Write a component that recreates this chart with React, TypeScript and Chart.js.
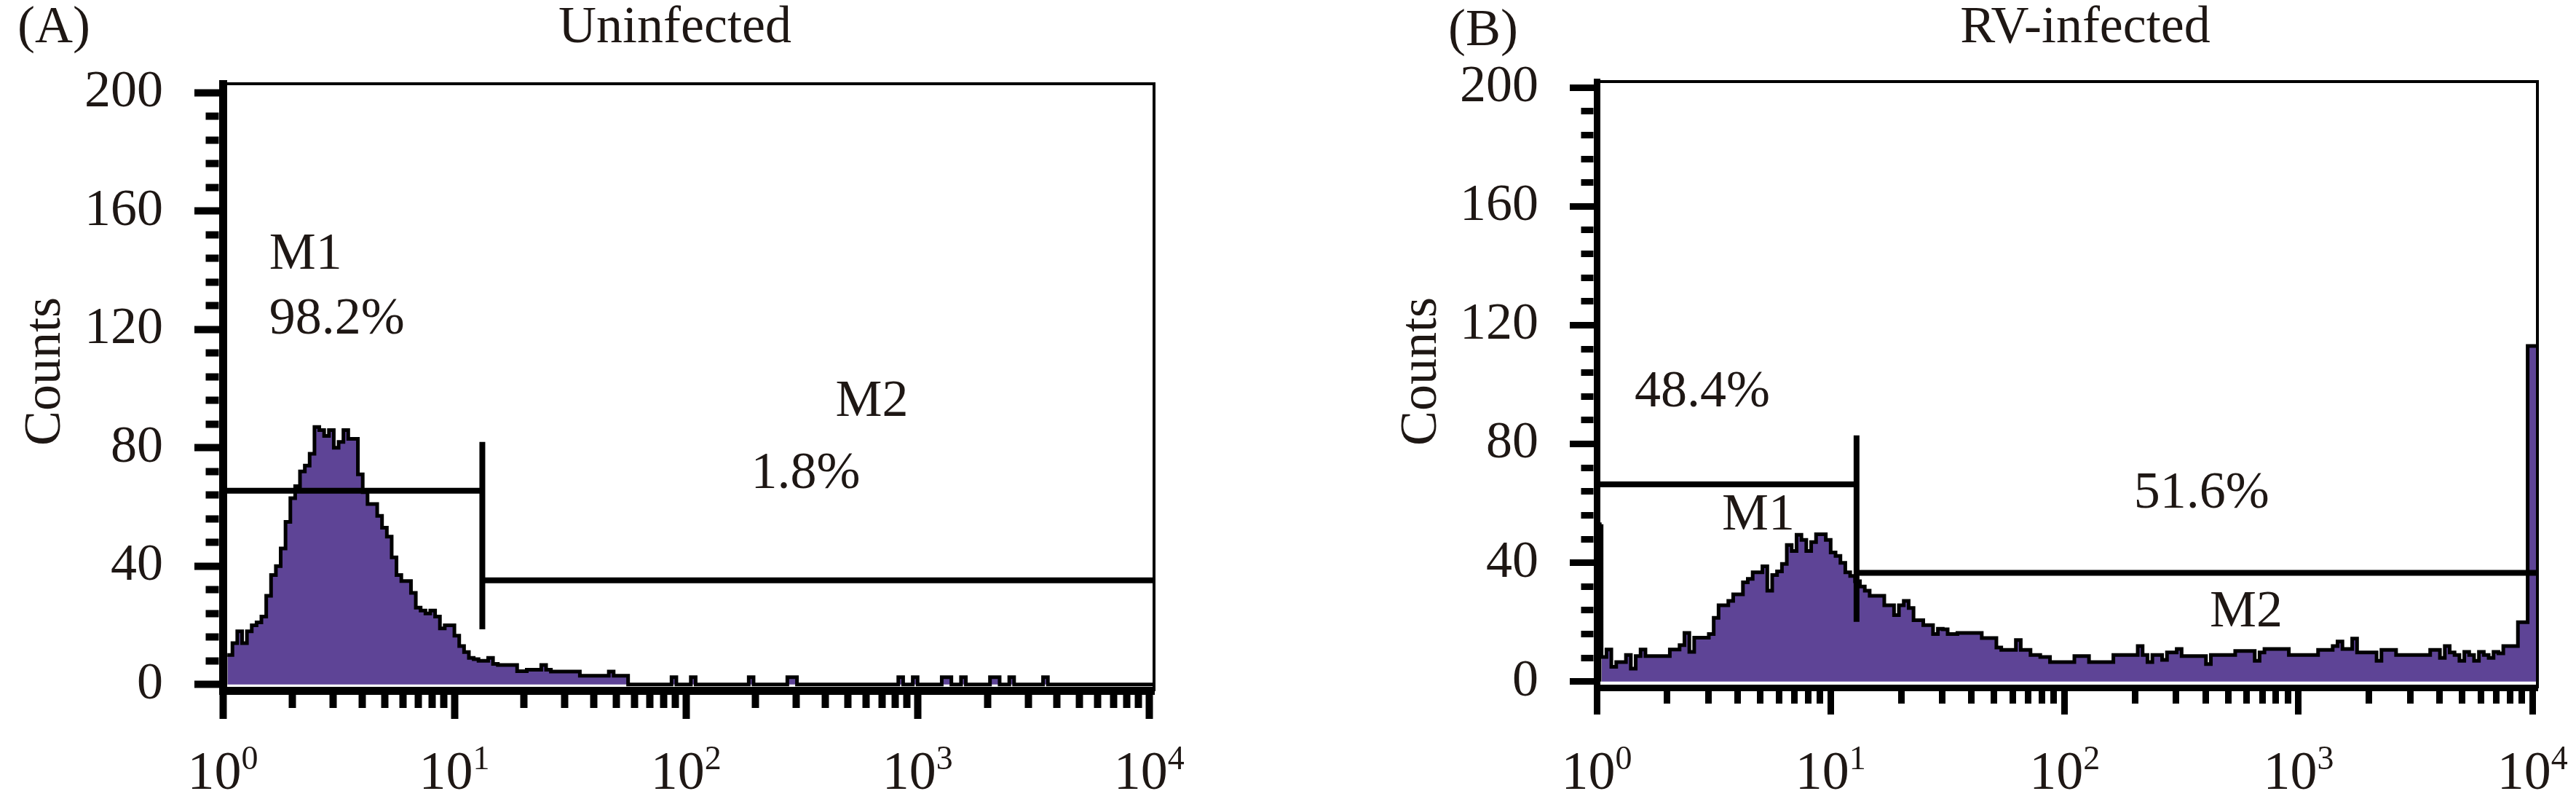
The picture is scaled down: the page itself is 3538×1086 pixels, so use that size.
import React, { useEffect, useRef } from 'react';
import { Chart, registerables } from 'chart.js';

Chart.register(...registerables);

// ---------- data ----------
const BINS_PER_DECADE = 48;
const X_DECADES = [0, 1, 2, 3, 4];
const Y_MAJOR_TICKS = [0, 40, 80, 120, 160, 200];
const Y_MINOR_STEP = 8;

// counts per bin (bin i spans 10^(i/48) .. 10^((i+1)/48))
const uninfectedCounts = [
  104, 10, 10, 14, 18, 14, 18, 20, 21, 23, 30, 37, 40, 46, 55, 63,
  67, 72, 74, 78, 87, 86, 84, 86, 80, 82, 86, 83, 83, 71, 65, 61,
  61, 57, 53, 50, 43, 37, 35, 35, 31, 26, 25, 24, 25, 23, 19, 20,
  20, 16.5, 13, 11, 9, 8.6, 8, 8, 9, 7, 6.6, 6.6, 6.6, 6.6, 4.5, 4.5,
  5, 5, 5, 6.6, 5, 4.4, 4.4, 4.4, 4.4, 4.4, 4.4, 3, 3, 3, 3, 3,
  3, 4.4, 3, 3, 3, 0, 0, 0, 0, 0, 0, 0, 0, 0, 2.5, 0,
  0, 0, 2.5, 0, 0, 0, 0, 0, 0, 0, 0, 0, 0, 0, 2.5, 0,
  0, 0, 0, 0, 0, 0, 2.5, 2.5, 0, 0, 0, 0, 0, 0, 0, 0,
  0, 0, 0, 0, 0, 0, 0, 0, 0, 0, 0, 0, 0, 2.5, 0, 0,
  2.5, 0, 0, 0, 0, 0, 2.5, 2.5, 0, 0, 2.5, 0, 0, 0, 0, 0,
  2.5, 2.5, 0, 0, 2.5, 0, 0, 0, 0, 0, 0, 2.5, 0, 0, 0, 0,
  0, 0, 0, 0, 0, 0, 0, 0, 0, 0, 0, 0, 0, 0, 0, 0,
  0,
];

const rvInfectedCounts = [
  100, 53, 8.3, 10.8, 5, 6.6, 6.6, 9, 4.4, 8.6, 10.8, 8.6, 8.6, 8.6, 8.6, 8.6,
  10.8, 10.8, 12.3, 16.4, 10, 14.8, 14.8, 14.8, 16, 21.5, 25.7, 25.7, 27.2, 29.4, 29.4, 33.4,
  34.6, 36.8, 36.8, 38.8, 30.6, 35.9, 37.1, 39.6, 46, 44, 49.4, 47.7, 44, 47, 49.6, 49.6,
  47.7, 43.5, 42.3, 40, 36.8, 35.6, 33.8, 32, 30.6, 28.9, 28.9, 28.9, 25.7, 25.7, 22.4, 25.7,
  27.2, 24.8, 20.7, 20.7, 19, 19, 16, 17.8, 17.6, 16, 16, 16.4, 16.4, 16.4, 16.4, 16.4,
  14.7, 14.7, 14.7, 11.5, 10.7, 10.7, 10.7, 14, 10.7, 10.7, 9, 9, 8.3, 8.3, 6.6, 6.6,
  6.6, 6.6, 6.6, 8.6, 8.6, 8.6, 6.6, 6.6, 6.6, 6.6, 6.6, 9, 9, 9, 9, 9,
  12, 9, 6.6, 9, 9, 7.3, 9.8, 9.8, 11, 8.6, 8.6, 8.6, 8.6, 8.6, 5.9, 9,
  9, 9, 9, 9, 10.3, 10.3, 10.3, 10.3, 7, 9.8, 11, 11, 11, 11, 11, 9,
  9, 9, 9, 9, 9, 10.7, 10.7, 10.7, 12, 13.5, 11, 11, 14.5, 9.8, 9.8, 9.8,
  9.8, 7, 10.7, 10.7, 10.7, 9, 9, 9, 9, 9, 9, 9, 10.7, 10.7, 8, 12,
  9.8, 9, 7, 10, 9, 7, 10, 9, 8, 10, 9.5, 12, 12, 12, 20, 20,
  113,
];

// marker (gate) levels [M1, M2] in counts, and the fluorescence value splitting M1 / M2
const uninfectedMarkerLevels = [65.5, 35.2];
const uninfectedMarkerSplit = 13.2;
const rvMarkerLevels = [66.4, 36.6];
const rvMarkerSplit = 12.9;
const MARKER_END_HALF = 16.5;

// annotation texts: [text, fluorescence value (left edge), count (baseline)]
const uninfectedLabels: [string, number, number][] = [
  ['M1', 1.585, 140.4],
  ['98.2%', 1.585, 118.7],
  ['M2', 442, 90.9],
  ['1.8%', 191, 66.5],
];
const rvLabels: [string, number, number][] = [
  ['48.4%', 1.452, 92.6],
  ['M1', 3.43, 51.2],
  ['51.6%', 197.7, 58.6],
  ['M2', 417, 18.6],
];

// ---------- style ----------
const FONT = '"Liberation Serif", "Times New Roman", serif';
const TEXT = '#1e1714';
const FILL = '#5e4496';
const H = 1086;
const X_MAX = Math.pow(10, (uninfectedCounts.length) / BINS_PER_DECADE);

const PANELS = [
  {
    key: 'A', left: 0, width: 1769,
    area: { left: 306, right: 1585, top: 115, bottom: 948 },
    yMax: 203, axisW: 11, tickW: 10, tickLen: 39, minorLen: 18,
    title: 'Uninfected', titleX: 927, tag: '(A)', tagX: 24, tagY: 58, countsX: 82,
    counts: uninfectedCounts, levels: uninfectedMarkerLevels, split: uninfectedMarkerSplit,
    labels: uninfectedLabels,
  },
  {
    key: 'B', left: 1769, width: 1769,
    area: { left: 424, right: 1716, top: 112, bottom: 944 },
    yMax: 202, axisW: 9, tickW: 9, tickLen: 37, minorLen: 17,
    title: 'RV-infected', titleX: 1095, tag: '(B)', tagX: 220, tagY: 62, countsX: 203,
    counts: rvInfectedCounts, levels: rvMarkerLevels, split: rvMarkerSplit,
    labels: rvLabels,
  },
];

function xTicks() {
  const t: { value: number; major: boolean }[] = [];
  for (let d = 0; d < 4; d++) {
    t.push({ value: Math.pow(10, d), major: true });
    for (let k = 2; k <= 9; k++) t.push({ value: k * Math.pow(10, d), major: false });
  }
  t.push({ value: 10000, major: true });
  return t;
}

function yTicks() {
  const t: { value: number; major: boolean }[] = [];
  for (let v = 0; v <= 200; v += Y_MINOR_STEP) {
    t.push({ value: v, major: Y_MAJOR_TICKS.includes(v) });
  }
  return t;
}

function buildChart(canvas: HTMLCanvasElement, p: any) {
  const hist = p.counts.map((c: number, i: number) => ({ x: Math.pow(10, i / BINS_PER_DECADE), y: c }));
  hist.push({ x: X_MAX, y: p.counts[p.counts.length - 1] });

  const lineDs = (pts: { x: number; y: number }[]) => ({
    type: 'line',
    data: pts,
    borderColor: '#000',
    borderWidth: 8,
    pointRadius: 0,
    fill: false,
    order: 0,
    xAxisID: 'x',
    yAxisID: 'y',
  });
  const [m1, m2] = p.levels;
  const s = p.split;
  const markers = [
    lineDs([{ x: 1, y: m1 }, { x: s, y: m1 }]),
    lineDs([{ x: 1, y: m1 - MARKER_END_HALF }, { x: 1, y: m1 + MARKER_END_HALF }]),
    lineDs([{ x: s, y: m1 + MARKER_END_HALF }, { x: s, y: m2 - MARKER_END_HALF }]),
    lineDs([{ x: s, y: m2 }, { x: X_MAX, y: m2 }]),
  ];

  const segLenY = p.tickLen - p.axisW / 2;
  const textPlugin = {
    id: 'texts' + p.key,
    afterDraw(chart: any) {
      const ctx = chart.ctx;
      const xs = chart.scales.x;
      const ys = chart.scales.y;
      ctx.save();
      ctx.fillStyle = TEXT;
      ctx.textBaseline = 'alphabetic';
      ctx.font = `72px ${FONT}`;
      ctx.textAlign = 'center';
      ctx.fillText(p.title, p.titleX, 58);
      ctx.textAlign = 'left';
      ctx.fillText(p.tag, p.tagX, p.tagY);
      // y axis title
      ctx.save();
      ctx.translate(p.countsX, 510);
      ctx.rotate(-Math.PI / 2);
      ctx.textAlign = 'center';
      ctx.fillText('Counts', 0, 0);
      ctx.restore();
      // annotations
      ctx.textAlign = 'left';
      p.labels.forEach(([t, xv, yv]: [string, number, number]) => {
        ctx.fillText(t, xs.getPixelForValue(xv), ys.getPixelForValue(yv));
      });
      // x tick labels 10^n
      X_DECADES.forEach((d) => {
        const px = xs.getPixelForValue(Math.pow(10, d));
        ctx.font = `74px ${FONT}`;
        const w1 = ctx.measureText('10').width;
        ctx.font = `46px ${FONT}`;
        const w2 = ctx.measureText(String(d)).width;
        const left = px - (w1 + w2) / 2;
        ctx.font = `74px ${FONT}`;
        ctx.fillText('10', left, 1083);
        ctx.font = `46px ${FONT}`;
        ctx.fillText(String(d), left + w1, 1056);
      });
      ctx.restore();
    },
  };

  return new Chart(canvas, {
    type: 'line',
    data: {
      datasets: [
        ...markers,
        {
          type: 'line',
          data: hist,
          stepped: 'after',
          borderColor: '#000',
          borderWidth: 5,
          backgroundColor: FILL,
          fill: 'origin',
          pointRadius: 0,
          order: 1,
          xAxisID: 'x',
          yAxisID: 'y',
          // first channel (saturated events) drawn as a solid dark spike
          segment: {
            backgroundColor: (c: any) => (c.p0DataIndex === 0 ? '#000' : undefined),
          },
        },
      ] as any,
    },
    options: {
      responsive: false,
      animation: false,
      devicePixelRatio: 1,
      events: [],
      layout: { padding: { left: 0, right: p.width - p.area.right, top: p.area.top, bottom: 0 } },
      plugins: { legend: { display: false }, tooltip: { enabled: false }, title: { display: false } },
      scales: {
        x: {
          type: 'logarithmic',
          position: 'bottom',
          min: 1,
          max: X_MAX,
          afterBuildTicks: (sc: any) => { sc.ticks = xTicks(); },
          afterFit: (sc: any) => { sc.height = H - p.area.bottom; },
          ticks: { display: false },
          grid: {
            drawOnChartArea: false,
            drawTicks: true,
            tickLength: p.tickLen,
            tickWidth: p.tickW,
            tickColor: '#000',
            tickBorderDash: (c: any) => (c.tick && c.tick.major ? [] : [p.minorLen, 300]),
            tickBorderDashOffset: 0,
          },
          border: { display: true, color: '#000', width: p.axisW, z: 1 },
        },
        y: {
          type: 'linear',
          position: 'left',
          min: -2,
          max: p.yMax,
          afterBuildTicks: (sc: any) => { sc.ticks = yTicks(); },
          afterFit: (sc: any) => { sc.width = p.area.left; },
          ticks: {
            autoSkip: false,
            padding: 43,
            color: TEXT,
            font: { family: FONT, size: 72 },
            callback: (v: any) => (Y_MAJOR_TICKS.includes(Number(v)) ? String(v) : ''),
          },
          grid: {
            drawOnChartArea: false,
            drawTicks: true,
            tickLength: p.tickLen,
            tickWidth: p.tickW,
            tickColor: '#000',
            tickBorderDash: (c: any) => (c.tick && c.tick.major ? [] : [p.minorLen, segLenY - p.minorLen]),
            tickBorderDashOffset: (c: any) => (c.tick && c.tick.major ? 0 : p.minorLen),
          },
          border: { display: true, color: '#000', width: p.axisW, z: 1 },
        },
        xTop: {
          type: 'linear',
          position: 'top',
          min: 0,
          max: 1,
          ticks: { display: false },
          grid: { display: false, drawTicks: false },
          afterFit: (sc: any) => { sc.height = 0; },
          border: { display: true, color: '#000', width: 4, z: 1 },
        },
        yRight: {
          type: 'linear',
          position: 'right',
          min: 0,
          max: 1,
          ticks: { display: false },
          grid: { display: false, drawTicks: false },
          afterFit: (sc: any) => { sc.width = 0; },
          border: { display: true, color: '#000', width: 4, z: 1 },
        },
      },
    } as any,
    plugins: [textPlugin],
  });
}

function Panel({ p }: { p: any }) {
  const ref = useRef<HTMLCanvasElement | null>(null);
  useEffect(() => {
    let chart: Chart | null = null;
    let cancelled = false;
    const make = () => {
      if (cancelled || !ref.current) return;
      chart = buildChart(ref.current, p);
    };
    if ((document as any).fonts && (document as any).fonts.load) {
      (document as any).fonts.load(`72px "Liberation Serif"`).then(make, make);
    } else {
      make();
    }
    return () => {
      cancelled = true;
      if (chart) chart.destroy();
    };
  }, [p]);
  return (
    <canvas
      ref={ref}
      width={p.width}
      height={H}
      style={{ position: 'absolute', left: p.left, top: 0, width: p.width, height: H }}
    />
  );
}

export default function App() {
  return (
    <div style={{ position: 'absolute', left: 0, top: 0, width: 3538, height: H, background: '#fff', overflow: 'hidden' }}>
      {PANELS.map((p) => (
        <Panel key={p.key} p={p} />
      ))}
    </div>
  );
}
